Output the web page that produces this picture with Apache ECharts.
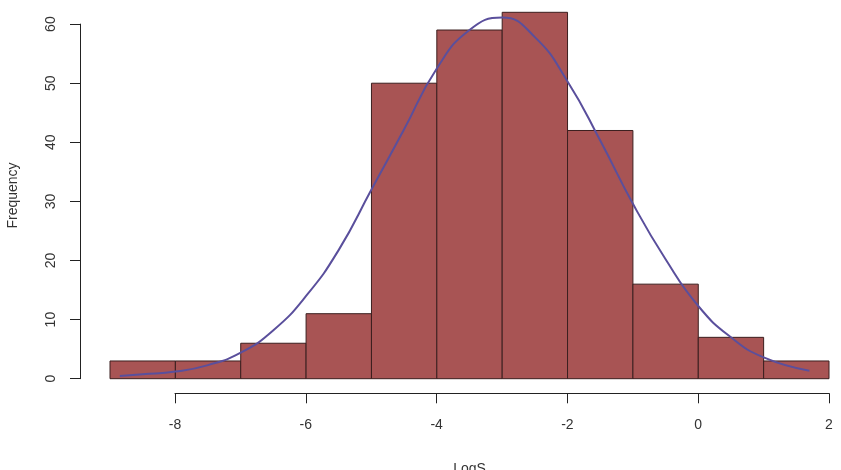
<!DOCTYPE html>
<html>
<head>
<meta charset="utf-8">
<script src="https://cdn.jsdelivr.net/npm/echarts@6/dist/echarts.min.js"></script>
<style>
    html, body {margin: 0; padding: 0; background: #fff;}
    #chart {width: 841px; height: 470px;}
</style>
</head>
<body>
<div id="chart"></div>
<script>
// histogram bins (LogS) and counts
const binStart = [-9, -8, -7, -6, -5, -4, -3, -2, -1, 0, 1];
const binEnd = [-8, -7, -6, -5, -4, -3, -2, -1, 0, 1, 2];
const counts = [3, 3, 6, 11, 50, 59, 62, 42, 16, 7, 3];

// fitted curve
const curveX = [-8.85, -8.5, -8, -7.5, -7, -6.5, -6, -5.5, -5, -4.5, -4, -3.5, -3, -2.5, -2, -1.5, -1, -0.5, 0, 0.5, 1, 1.7];
const curveY = [0.45, 0.75, 1.2, 2.3, 4.4, 8.2, 14, 21.8, 32, 42.2, 52.5, 59, 61.1, 57.8, 50.3, 40.3, 29.6, 20.2, 12.3, 7, 3.6, 1.35];

const xTicks = [-8, -6, -4, -2, 0, 2];
const yTicks = [0, 10, 20, 30, 40, 50, 60];

const font = 'Liberation Sans, Arial, sans-serif';
const textColor = '#333';

let myChart = echarts.init(document.getElementById('chart'));

let option = {
    animation: false,
    backgroundColor: '#fff',
    textStyle: {fontFamily: font},
    grid: [
        // plot region
        {left: 110, right: 12, top: 12.3, bottom: 91.3, outerBoundsMode: 'none', containLabel: false},
        // axis decoration only (R style axes spanning tick range)
        {left: 175, right: 12, top: 24.1, bottom: 91.3, outerBoundsMode: 'none', containLabel: false}
    ],
    xAxis: [
        {
            type: 'value', gridIndex: 0, min: -9, max: 2,
            splitLine: {show: false}, axisLine: {show: false},
            axisTick: {show: false}, axisLabel: {show: false},
            name: 'LogS', nameLocation: 'middle', nameGap: 83,
            nameTextStyle: {color: textColor, fontSize: 14, fontFamily: font}
        },
        {
            type: 'value', gridIndex: 1, min: xTicks[0], max: xTicks[xTicks.length - 1], interval: 2,
            offset: 14.6,
            splitLine: {show: false},
            axisLine: {show: true, onZero: false, lineStyle: {color: '#222', width: 1}},
            axisTick: {show: true, length: 10, lineStyle: {color: '#222'}},
            axisLabel: {color: textColor, fontSize: 14, fontFamily: font, margin: 25}
        }
    ],
    yAxis: [
        {
            type: 'value', gridIndex: 0, min: 0, max: 62,
            splitLine: {show: false}, axisLine: {show: false},
            axisTick: {show: false}, axisLabel: {show: false},
            name: 'Frequency', nameLocation: 'middle', nameGap: 90, nameRotate: 90,
            nameTextStyle: {color: textColor, fontSize: 14, fontFamily: font}
        },
        {
            type: 'value', gridIndex: 1, min: yTicks[0], max: yTicks[yTicks.length - 1], interval: 10,
            offset: 95,
            splitLine: {show: false},
            axisLine: {show: true, onZero: false, lineStyle: {color: '#222', width: 1}},
            axisTick: {show: true, length: 10, lineStyle: {color: '#222'}},
            axisLabel: {color: textColor, fontSize: 14, fontFamily: font, margin: 22, rotate: 90}
        }
    ],
    series: [
        {
            type: 'custom',
            xAxisIndex: 0, yAxisIndex: 0,
            data: counts.map((c, i) => [binStart[i], binEnd[i], c]),
            renderItem: function (params, api) {
                let p0 = api.coord([api.value(0), 0]);
                let p1 = api.coord([api.value(1), api.value(2)]);
                return {
                    type: 'rect',
                    shape: {x: p0[0], y: p1[1], width: p1[0] - p0[0], height: p0[1] - p1[1]},
                    style: {fill: '#a85454', stroke: '#3b1f1f', lineWidth: 1}
                };
            },
            encode: {x: [0, 1], y: 2}
        },
        {
            type: 'line',
            xAxisIndex: 0, yAxisIndex: 0,
            data: curveX.map((x, i) => [x, curveY[i]]),
            smooth: true,
            symbol: 'none',
            lineStyle: {color: '#5a4f9c', width: 2},
            z: 5
        }
    ]
};
myChart.setOption(option);
</script>
</body>
</html>
